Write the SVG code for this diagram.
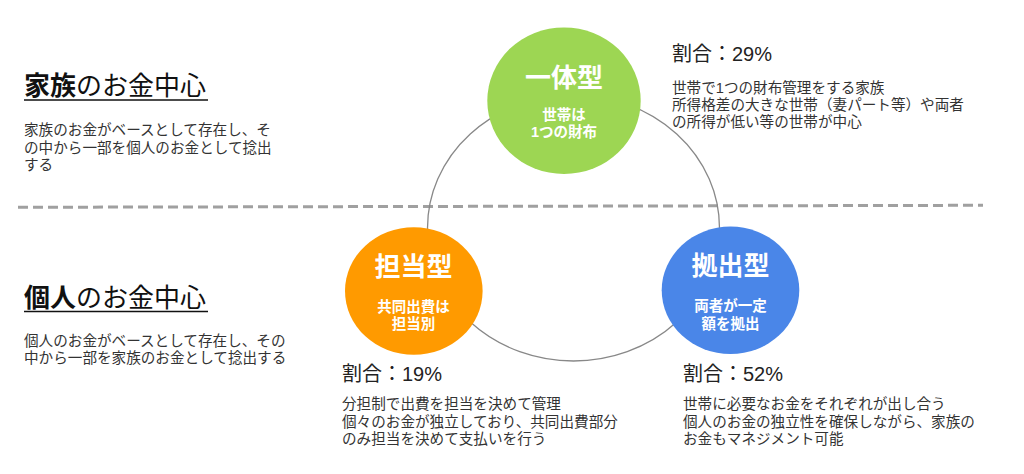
<svg xmlns="http://www.w3.org/2000/svg" width="1024" height="474" viewBox="0 0 1024 474">
<style>
text{font-family:"Liberation Sans","Noto Sans CJK JP",sans-serif}
.h{font-size:26px;fill:#111}
.hb{font-weight:bold}
.body{font-size:14.6px;fill:#333}
.pct{font-size:20px;fill:#222}
.ttl{font-size:26px;font-weight:bold;fill:#fff;text-anchor:middle}
.sub{font-size:14.5px;font-weight:bold;fill:#fff;text-anchor:middle}
.ul{stroke:#111;stroke-width:1.6}
</style>
<rect width="1024" height="474" fill="#fff"/>
<g id="connectors">
<line x1="18" y1="207.3" x2="983" y2="205.3" stroke="#a0a0a0" stroke-width="3" stroke-dasharray="10 5"/>
<ellipse cx="573.5" cy="228" rx="146" ry="133" fill="none" stroke="#888" stroke-width="1.3"/>
</g>
<g id="family-heading">
<text class="h" x="24" y="95"><tspan class="hb">家族</tspan>のお金中心</text>
<line class="ul" x1="24" y1="100" x2="208" y2="100"/>
<text class="body" x="24" y="135">家族のお金がベースとして存在し、そ</text>
<text class="body" x="24" y="152.5">の中から一部を個人のお金として捻出</text>
<text class="body" x="24" y="170">する</text>
</g>
<g id="personal-heading">
<text class="h" x="24" y="306.5"><tspan class="hb">個人</tspan>のお金中心</text>
<line class="ul" x1="24" y1="311.5" x2="208" y2="311.5"/>
<text class="body" x="24" y="346">個人のお金がベースとして存在し、その</text>
<text class="body" x="24" y="363">中から一部を家族のお金として捻出する</text>
</g>
<g id="ittai">
<ellipse cx="564" cy="100.7" rx="76.7" ry="73.3" fill="#9dd653"/>
<text class="ttl" x="564" y="86.5">一体型</text>
<text class="sub" x="564" y="119.7">世帯は</text>
<text class="sub" x="564" y="137">1つの財布</text>
</g>
<g id="ittai-info">
<text class="pct" x="672" y="61">割合：29%</text>
<text class="body" x="672" y="92.5">世帯で1つの財布管理をする家族</text>
<text class="body" x="672" y="109.5">所得格差の大きな世帯（妻パート等）や両者</text>
<text class="body" x="672" y="126.5">の所得が低い等の世帯が中心</text>
</g>
<g id="tanto">
<ellipse cx="413.8" cy="291" rx="68.8" ry="63.8" fill="#ff9a00"/>
<text class="ttl" x="413.5" y="275.5">担当型</text>
<text class="sub" x="413.5" y="311.5">共同出費は</text>
<text class="sub" x="413.5" y="329">担当別</text>
</g>
<g id="tanto-info">
<text class="pct" x="342" y="381">割合：19%</text>
<text class="body" x="342" y="409">分担制で出費を担当を決めて管理</text>
<text class="body" x="342" y="426.5">個々のお金が独立しており、共同出費部分</text>
<text class="body" x="342" y="444">のみ担当を決めて支払いを行う</text>
</g>
<g id="kyoshutsu">
<ellipse cx="730.5" cy="290.3" rx="68.8" ry="63.7" fill="#4a86e8"/>
<text class="ttl" x="730.5" y="275">拠出型</text>
<text class="sub" x="730.5" y="311">両者が一定</text>
<text class="sub" x="730.5" y="328.5">額を拠出</text>
</g>
<g id="kyoshutsu-info">
<text class="pct" x="683" y="381">割合：52%</text>
<text class="body" x="683" y="409">世帯に必要なお金をそれぞれが出し合う</text>
<text class="body" x="683" y="426.5">個人のお金の独立性を確保しながら、家族の</text>
<text class="body" x="683" y="444">お金もマネジメント可能</text>
</g>
</svg>
